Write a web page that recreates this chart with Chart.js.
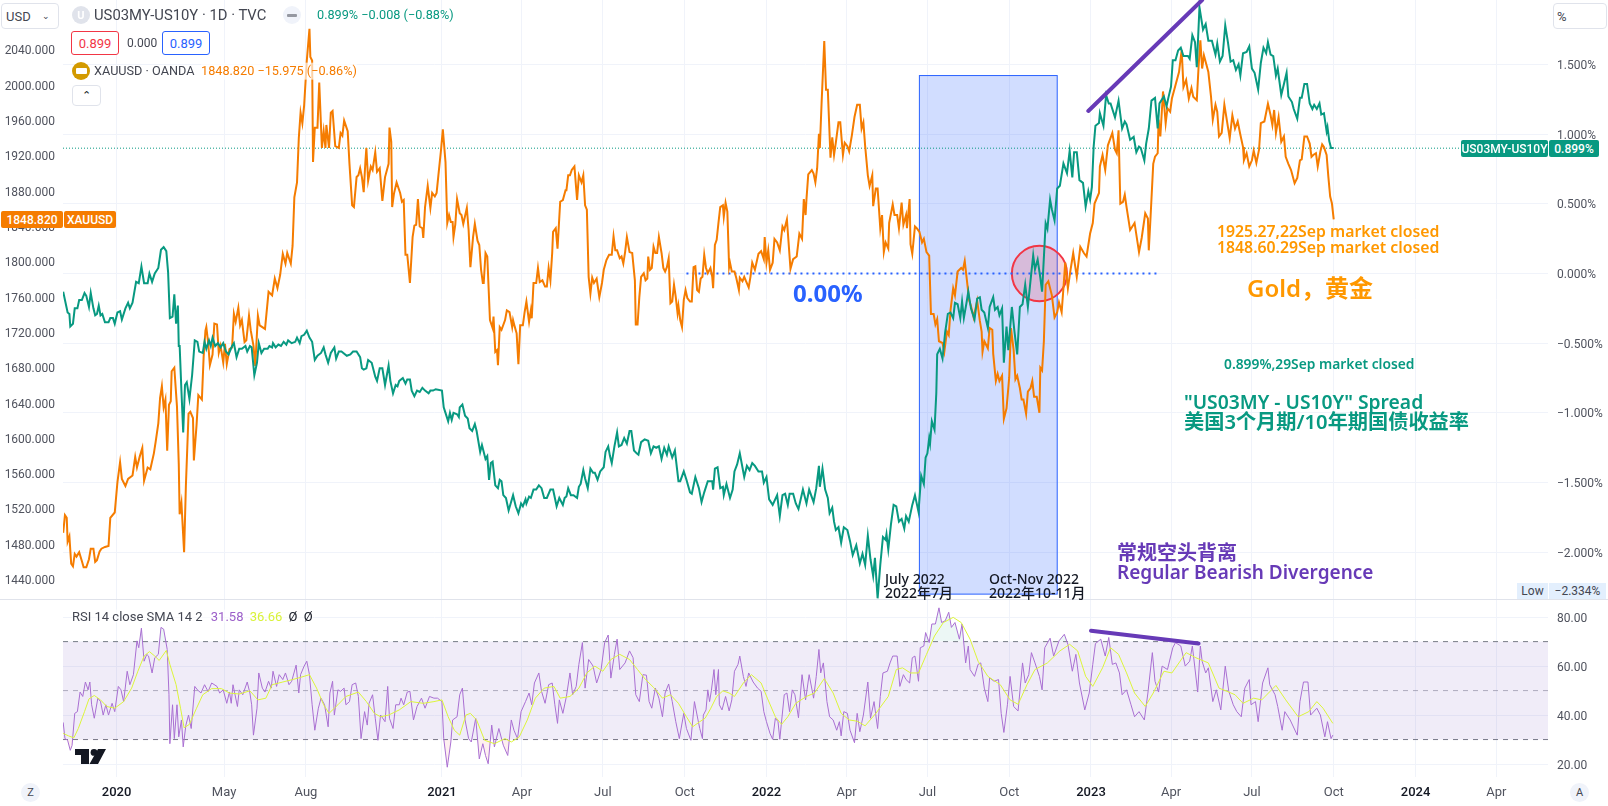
<!DOCTYPE html>
<html>
<head>
<meta charset="utf-8">
<script src="https://cdn.jsdelivr.net/npm/chart.js@4"></script>
<style>
    html, body { margin: 0; padding: 0; background: #fff; width: 1608px; height: 806px; overflow: hidden; }
    body { position: relative; font-family: Roboto, "Noto Sans CJK SC", sans-serif; font-size: 13px; color: #434651; }
    canvas { position: absolute; left: 0; }
    #mainChart { top: 0; }
    #rsiChart { top: 600px; }
    .t { position: absolute; white-space: nowrap; transform: translateY(-50%); line-height: 1; z-index: 3; }
    .note { font-family: "Noto Sans", "Noto Sans CJK SC", sans-serif; font-weight: 600; }
    .box { position: absolute; box-sizing: border-box; z-index: 3; display: flex; align-items: center; justify-content: center; white-space: nowrap; }
    .sel { border: 1px solid #e0e3eb; border-radius: 4px; background: #fff; }
    .round { border-radius: 50%; }
    .tag { color: #fff; font-weight: 500; font-size: 12px; border-radius: 2px; }
</style>
</head>
<body>
<canvas id="mainChart" width="1608" height="599"></canvas>
<canvas id="rsiChart" width="1608" height="206"></canvas>

<!-- divider between panes -->
<div style="position:absolute;left:0;top:599px;width:1608px;height:1px;background:#e0e3eb;z-index:2"></div>

<!-- legend -->
<div class="box sel" style="left:1px;top:3px;width:58px;height:26px;justify-content:flex-start;padding-left:4px">USD<span style="margin-left:11px;font-size:9px">&#8964;</span></div>
<div class="box sel" style="left:1553px;top:3px;width:54px;height:26px;justify-content:flex-start;padding-left:3px">%</div>
<div class="box round" style="left:72px;top:6px;width:18px;height:18px;background:#e0e3eb;color:#fff;font-size:11px;font-weight:700">U</div>
<div class="t" style="left:94px;top:15px;font-size:14.8px">US03MY-US10Y · 1D · TVC</div>
<div class="box round" style="left:283px;top:6px;width:18px;height:18px;background:#f0f3fa"><span style="width:10px;height:3px;background:#9598a1;border-radius:1px"></span></div>
<div class="t" style="left:317px;top:15px;font-size:12.7px;color:#089981">0.899% &#8722;0.008 (&#8722;0.88%)</div>
<div class="box" style="left:71px;top:31px;width:48px;height:24px;border:1px solid #f23645;border-radius:3px;color:#f23645;background:#fff">0.899</div>
<div class="t" style="left:127px;top:43px;font-size:12px">0.000</div>
<div class="box" style="left:162px;top:31px;width:48px;height:24px;border:1px solid #2962ff;border-radius:3px;color:#2962ff;background:#fff">0.899</div>
<div class="box round" style="left:72px;top:62px;width:18px;height:18px;background:#d39a00"><span style="width:11px;height:6px;background:#fff;border-radius:1px"></span></div>
<div class="t" style="left:94px;top:71px;font-size:12.7px">XAUUSD · OANDA</div>
<div class="t" style="left:201px;top:71px;font-size:12.7px;color:#f57c00;background:rgba(255,255,255,.65);padding:2px 0">1848.820 &#8722;15.975 (&#8722;0.86%)</div>
<div class="box sel" style="left:72px;top:85px;width:29px;height:21px;font-size:11px;color:#131722">&#8963;</div>

<!-- price tags -->
<div class="box tag" style="left:1px;top:211px;width:62px;height:17px;background:#f57c00">1848.820</div>
<div class="box tag" style="left:64px;top:211px;width:52px;height:17px;background:#f57c00">XAUUSD</div>
<div class="box tag" style="left:1461px;top:140px;width:87px;height:17px;background:#089981">US03MY-US10Y</div>
<div class="box tag" style="left:1549px;top:140px;width:50px;height:17px;background:#089981">0.899%</div>
<div class="box" style="left:1517px;top:583px;width:31px;height:16px;background:#e3effd;font-size:12px">Low</div>
<div class="box" style="left:1549px;top:583px;width:57px;height:16px;background:#e3effd;font-size:12px">&#8722;2.334%</div>

<!-- drawn notes -->
<div class="t note" style="left:793px;top:293px;font-size:24px;color:#2962ff;font-weight:700">0.00%</div>
<div class="t note" style="left:1217px;top:232px;font-size:15.8px;color:#ff9800">1925.27,22Sep market closed</div>
<div class="t note" style="left:1217px;top:248px;font-size:15.8px;color:#ff9800">1848.60.29Sep market closed</div>
<div class="t note" style="left:1247px;top:288px;font-size:24px;color:#ff9800">Gold，黄金</div>
<div class="t note" style="left:1224px;top:364px;font-size:13.8px;color:#089981">0.899%,29Sep market closed</div>
<div class="t note" style="left:1184px;top:402px;font-size:19.3px;color:#089981">"US03MY - US10Y" Spread</div>
<div class="t note" style="left:1184px;top:421px;font-size:20.2px;color:#089981">美国3个月期/10年期国债收益率</div>
<div class="t note" style="left:1117px;top:553px;font-size:20px;color:#673ab7">常规空头背离</div>
<div class="t note" style="left:1117px;top:572px;font-size:19px;color:#673ab7">Regular Bearish Divergence</div>
<div class="t note" style="left:885px;top:579px;font-size:14px;color:#131722;font-weight:500">July 2022</div>
<div class="t note" style="left:885px;top:593px;font-size:14px;color:#131722;font-weight:500">2022年7月</div>
<div class="t note" style="left:989px;top:579px;font-size:14px;color:#131722;font-weight:500">Oct-Nov 2022</div>
<div class="t note" style="left:989px;top:593px;font-size:14px;color:#131722;font-weight:500">2022年10-11月</div>

<!-- RSI legend -->
<div class="t" style="left:72px;top:616px;font-size:13px;background:rgba(255,255,255,.6)">RSI 14 close SMA 14 2 <span style="color:#9c5fc9;margin-left:5px">31.58</span> <span style="color:#d9f23a;margin-left:3px">36.66</span> <span style="color:#131722;margin-left:3px">Ø</span> <span style="color:#131722;margin-left:3px">Ø</span></div>

<!-- logo -->
<svg style="position:absolute;left:75px;top:749px;z-index:3" width="31" height="15" viewBox="0 0 31 15"><path d="M0 0h14v15H6V6H0z" fill="#131722"/><circle cx="19" cy="3.4" r="3.4" fill="#131722"/><path d="M23 0h8l-8 15H14.500z" fill="#131722"/></svg>

<!-- corner buttons -->
<div class="box round" style="left:21px;top:783px;width:19px;height:19px;background:#f0f3fa;font-size:11px">Z</div>
<div class="box round" style="left:1570px;top:783px;width:19px;height:19px;background:#f0f3fa;font-size:11px">A</div>

<script>
// x of every point = days since 2020-01-01, y = the value

// XAUUSD close (USD)
const goldPrice = [
    [-60,1493],[-58,1513],[-56,1510],[-55,1483],[-53,1489],[-51,1458],[-49,1455],[-47,1469],[-45,1466],[-42,1471],[-39,1461],[-37,1454],[-34,1454],[-31,1463],[-29,1475],[-26,1475],[-24,1460],[-22,1462],[-19,1472],[-17,1475],[-13,1477],[-9,1478],[-7,1510],[-2,1516],[1,1550],[4,1573],[6,1554],[10,1546],[13,1554],[18,1558],[21,1579],[23,1567],[26,1579],[29,1589],[31,1552],[35,1567],[38,1565],[42,1583],[44,1596],[47,1617],[49,1646],[51,1659],[53,1635],[55,1644],[57,1586],[59,1638],[61,1642],[62,1676],[65,1680],[68,1636],[70,1571],[71,1514],[73,1527],[76,1471],[78,1546],[81,1628],[83,1630],[86,1623],[87,1575],[90,1615],[92,1649],[96,1644],[98,1693],[100,1722],[101,1726],[103,1709],[105,1683],[108,1695],[110,1730],[113,1729],[115,1697],[117,1705],[120,1686],[122,1707],[124,1684],[127,1701],[130,1703],[132,1741],[134,1732],[137,1748],[139,1728],[141,1734],[144,1709],[146,1711],[149,1739],[151,1722],[154,1705],[156,1682],[159,1739],[161,1728],[167,1724],[171,1766],[175,1762],[178,1781],[181,1770],[184,1785],[187,1809],[190,1798],[192,1810],[196,1798],[198,1818],[200,1873],[203,1890],[205,1940],[207,1969],[209,1957],[211,1977],[214,2028],[217,2064],[218,2032],[220,2028],[221,1913],[223,1952],[226,1952],[228,2003],[231,1929],[233,1948],[235,1929],[236,1955],[239,1929],[241,1969],[243,1971],[246,1931],[250,1929],[252,1946],[254,1943],[256,1960],[260,1948],[262,1911],[265,1864],[267,1862],[270,1896],[272,1898],[274,1906],[276,1896],[278,1879],[280,1915],[281,1929],[283,1892],[286,1908],[288,1904],[291,1924],[293,1902],[296,1906],[299,1869],[302,1896],[306,1911],[307,1952],[309,1936],[310,1862],[312,1877],[315,1890],[319,1878],
    [321,1868],[323,1870],[325,1808],[327,1808],[330,1776],[333,1828],[335,1841],[337,1842],[339,1871],[341,1840],[344,1838],[345,1827],[347,1862],[350,1886],[353,1861],[355,1878],[358,1874],[360,1878],[362,1898],[365,1927],[367,1950],[370,1913],[372,1844],[374,1853],[376,1845],[378,1845],[379,1828],[381,1842],[383,1871],[386,1855],[388,1853],[390,1843],[394,1861],[396,1836],[398,1794],[401,1828],[403,1843],[406,1824],[408,1819],[410,1791],[412,1776],[413,1776],[415,1810],[417,1806],[420,1734],[423,1725],[424,1738],[426,1698],[428,1700],[429,1683],[431,1726],[433,1723],[437,1734],[439,1745],[442,1743],[445,1726],[446,1734],[448,1726],[450,1719],[452,1684],[454,1728],[457,1728],[459,1743],[461,1755],[464,1732],[466,1745],[467,1736],[469,1776],[472,1776],[474,1793],[476,1777],[479,1779],[482,1772],[484,1772],[486,1793],[488,1779],[490,1810],[491,1834],[494,1838],[496,1815],[499,1868],[502,1870],[505,1881],[506,1881],[508,1898],[510,1898],[512,1904],[515,1908],[518,1870],[520,1898],[523,1890],[525,1898],[527,1864],[529,1859],[531,1783],[533,1764],[535,1782],[537,1776],[540,1781],[543,1760],[546,1776],[548,1791],[551,1802],[554,1808],[557,1808],[559,1829],[561,1813],[563,1813],[566,1804],[568,1806],[570,1798],[572,1811],[574,1828],[577,1811],[580,1810],[583,1779],[584,1729],[586,1729],[588,1760],[590,1783],[593,1787],[595,1779],[597,1781],[598,1806],[600,1791],[602,1793],[604,1817],[606,1810],[608,1810],[610,1828],[613,1810],[615,1793],[617,1789],[619,1794],[621,1804],[623,1753],[625,1755],[627,1774],[629,1760],[631,1742],[632,1750],[634,1734],[636,1726],[638,1757],[640,1768],[642,1759],[645,1755],[647,1755],[649,1794],[651,1795],[653,1768],[655,1766],[657,1781],[659,1783],[661,1808],[663,1793],[665,1787],[668,1793],[670,1783],[671,1770],[673,1819],[675,1825],[677,1844],[679,1862],[682,1864],[683,1851],[685,1867],[687,1857],[689,1794],
    [690,1799],[692,1789],[695,1789],[697,1782],[700,1768],[701,1782],[704,1778],[706,1783],[708,1778],[711,1771],[713,1783],[715,1799],[718,1791],[722,1809],[725,1812],[728,1803],[729,1828],[731,1799],[733,1813],[735,1791],[738,1799],[740,1826],[743,1822],[746,1813],[749,1840],[751,1836],[754,1848],[758,1792],[761,1803],[765,1806],[768,1832],[771,1826],[773,1871],[775,1853],[776,1871],[778,1899],[782,1904],[784,1900],[786,1890],[788,1906],[790,1945],[791,1929],[793,1980],[796,2050],[798,1995],[800,1995],[803,1918],[805,1941],[807,1921],[809,1935],[812,1958],[814,1958],[817,1921],[819,1935],[822,1931],[824,1925],[827,1943],[830,1964],[833,1978],[836,1978],[838,1951],[840,1958],[842,1931],[845,1898],[847,1886],[850,1898],[851,1863],[854,1883],[856,1883],[859,1838],[861,1853],[863,1811],[865,1822],[868,1815],[869,1844],[873,1865],[875,1853],[878,1853],[880,1838],[883,1867],[885,1842],[888,1853],[889,1838],[892,1871],[893,1820],[895,1809],[898,1840],[900,1838],[903,1834],[906,1822],[908,1826],[911,1811],[914,1807],[916,1741],[919,1741],[921,1729],[923,1735],[925,1710],[929,1708],[931,1698],[934,1721],[936,1717],[938,1745],[941,1770],[943,1762],[946,1789],[950,1793],[952,1791],[954,1801],[956,1783],[959,1756],[961,1750],[964,1737],[968,1756],[971,1733],[973,1721],[974,1698],[976,1710],[980,1702],[982,1725],[985,1723],[986,1696],[989,1665],[991,1673],[993,1665],[996,1671],[998,1622],[1001,1634],[1003,1657],[1004,1669],[1006,1725],[1009,1700],[1011,1667],[1013,1671],[1016,1657],[1018,1644],[1020,1644],[1023,1628],[1025,1653],[1028,1657],[1030,1665],[1032,1647],[1035,1647],[1038,1629],[1039,1680],[1041,1677],[1043,1710],[1045,1774],[1048,1778],[1052,1762],[1055,1737],[1058,1743],[1060,1754],[1063,1743],[1065,1770],[1067,1799],[1070,1770],[1073,1791],
    [1076,1810],[1080,1783],[1084,1817],[1088,1810],[1091,1806],[1095,1832],[1098,1844],[1100,1866],[1105,1878],[1106,1908],[1109,1921],[1112,1904],[1115,1932],[1120,1946],[1123,1927],[1125,1923],[1127,1949],[1129,1866],[1132,1868],[1134,1876],[1136,1862],[1140,1836],[1145,1844],[1150,1811],[1153,1827],[1157,1855],[1160,1849],[1161,1813],[1163,1851],[1166,1911],[1168,1919],[1171,1923],[1172,1961],[1174,1942],[1177,1993],[1180,1957],[1182,1974],[1185,1970],[1187,1985],[1191,2000],[1195,2015],[1198,2040],[1200,1998],[1203,2006],[1206,1985],[1209,1997],[1211,1987],[1215,1983],[1217,2021],[1219,2051],[1221,2019],[1223,2034],[1228,2015],[1231,1987],[1233,1961],[1236,1978],[1238,1970],[1240,1942],[1243,1946],[1246,1978],[1249,1959],[1252,1940],[1255,1966],[1258,1951],[1261,1959],[1264,1944],[1267,1930],[1268,1915],[1271,1923],[1274,1908],[1277,1915],[1279,1926],[1282,1912],[1285,1927],[1287,1957],[1291,1959],[1295,1979],[1298,1966],[1300,1955],[1302,1972],[1304,1946],[1307,1964],[1310,1936],[1313,1942],[1315,1919],[1318,1911],[1321,1904],[1325,1889],[1328,1895],[1331,1915],[1333,1916],[1336,1942],[1339,1942],[1342,1934],[1344,1919],[1346,1921],[1349,1923],[1351,1908],[1354,1925],[1356,1933],[1358,1930],[1361,1921],[1363,1896],[1365,1874],[1367,1866],[1369,1848]
];

// US03MY-US10Y spread (%)
const spreadPct = [
    [-60,-.13],[-58,-.19],[-55,-.28],[-53,-.29],[-52,-.38],[-49,-.36],[-47,-.25],[-44,-.25],[-42,-.19],[-39,-.19],[-36,-.14],[-34,-.16],[-31,-.24],[-29,-.14],[-26,-.25],[-24,-.30],[-22,-.29],[-20,-.23],[-18,-.30],[-16,-.29],[-13,-.35],[-9,-.35],[-7,-.32],[-4,-.32],[-2,-.36],[1,-.28],[4,-.27],[6,-.33],[10,-.25],[13,-.21],[15,-.25],[18,-.21],[22,-.06],[25,-.07],[28,.05],[31,-.07],[35,-.07],[37,0],[40,-.06],[43,0],[47,.04],[50,.17],[53,.19],[56,.16],[58,.01],[60,-.32],[63,-.31],[65,-.15],[67,-.36],[69,-.23],[70,-.52],[71,-.52],[73,-.84],[75,-1.14],[77,-.80],[79,-.78],[82,-.90],[85,-.73],[88,-.48],[91,-.49],[93,-.56],[97,-.57],[99,-.49],[101,-.54],[104,-.48],[106,-.52],[108,-.46],[111,-.52],[114,-.50],[117,-.53],[120,-.50],[123,-.56],[126,-.58],[130,-.52],[132,-.50],[135,-.60],[138,-.54],[141,-.54],[145,-.52],[147,-.56],[150,-.52],[152,-.53],[155,-.73],[158,-.64],[160,-.50],[163,-.57],[166,-.54],[170,-.54],[172,-.52],[175,-.53],[176,-.50],[179,-.53],[182,-.51],[185,-.52],[188,-.49],[191,-.51],[193,-.48],[197,-.50],[201,-.49],[203,-.46],[206,-.50],[208,-.45],[211,-.44],[214,-.41],[217,-.46],[220,-.49],[223,-.62],[226,-.59],[230,-.57],[233,-.53],[235,-.58],[238,-.64],[241,-.57],[245,-.53],[247,-.61],[250,-.56],[253,-.56],[259,-.59],[263,-.58],[266,-.56],[270,-.56],[274,-.60],[276,-.68],[278,-.69],[281,-.68],[283,-.62],[287,-.64],[291,-.74],[293,-.77],[296,-.68],[299,-.68],[302,-.80],[306,-.66],[308,-.77],[311,-.86],[314,-.80],[316,-.81],[318,-.77],
    [322,-.75],[325,-.79],[327,-.76],[330,-.76],[332,-.84],[335,-.88],[338,-.84],[341,-.85],[344,-.82],[347,-.84],[351,-.86],[353,-.84],[356,-.84],[359,-.83],[366,-.84],[368,-.96],[370,-1.00],[373,-1.06],[375,-1.00],[377,-1.05],[379,-1.00],[383,-1.01],[385,-1.03],[386,-.96],[389,-.94],[392,-1.02],[395,-1.04],[397,-1.11],[400,-1.13],[403,-1.08],[405,-1.13],[409,-1.28],[411,-1.23],[415,-1.33],[417,-1.31],[419,-1.48],[421,-1.36],[423,-1.35],[426,-1.52],[429,-1.54],[431,-1.48],[433,-1.49],[435,-1.59],[438,-1.61],[441,-1.70],[446,-1.59],[449,-1.67],[452,-1.72],[455,-1.65],[457,-1.67],[460,-1.62],[461,-1.65],[464,-1.60],[466,-1.61],[469,-1.55],[472,-1.55],[475,-1.52],[478,-1.54],[481,-1.61],[484,-1.61],[488,-1.55],[491,-1.55],[495,-1.67],[498,-1.61],[502,-1.66],[504,-1.61],[506,-1.60],[508,-1.54],[511,-1.59],[514,-1.59],[518,-1.61],[520,-1.53],[522,-1.51],[525,-1.41],[527,-1.47],[530,-1.54],[533,-1.40],[536,-1.43],[538,-1.43],[541,-1.48],[544,-1.42],[548,-1.39],[550,-1.28],[553,-1.24],[555,-1.31],[557,-1.36],[560,-1.24],[563,-1.14],[565,-1.24],[568,-1.23],[571,-1.18],[574,-1.22],[577,-1.13],[579,-1.13],[582,-1.27],[585,-1.29],[587,-1.30],[590,-1.21],[594,-1.19],[598,-1.20],[601,-1.29],[604,-1.24],[607,-1.25],[610,-1.24],[613,-1.33],[616,-1.25],[619,-1.30],[621,-1.24],[625,-1.32],[628,-1.27],[632,-1.49],[634,-1.49],[638,-1.42],[641,-1.48],[645,-1.57],[647,-1.58],[651,-1.46],[655,-1.54],[658,-1.64],[661,-1.57],[665,-1.49],[668,-1.49],[670,-1.49],[671,-1.55],[673,-1.40],[676,-1.39],[679,-1.54],[682,-1.53],[683,-1.59],[686,-1.51],
    [690,-1.61],[693,-1.55],[695,-1.42],[698,-1.37],[701,-1.29],[706,-1.46],[709,-1.38],[712,-1.41],[715,-1.36],[718,-1.38],[722,-1.42],[726,-1.42],[728,-1.50],[731,-1.46],[734,-1.62],[738,-1.66],[743,-1.59],[746,-1.74],[749,-1.59],[752,-1.58],[755,-1.66],[757,-1.58],[761,-1.58],[764,-1.65],[767,-1.69],[772,-1.55],[776,-1.65],[779,-1.55],[784,-1.64],[787,-1.54],[790,-1.38],[791,-1.53],[794,-1.40],[797,-1.55],[800,-1.61],[802,-1.72],[805,-1.68],[807,-1.78],[809,-1.84],[812,-1.82],[815,-1.93],[818,-1.82],[822,-1.84],[825,-1.92],[828,-2.02],[832,-1.95],[836,-2.08],[839,-2.01],[842,-2.09],[845,-1.88],[848,-2.05],[851,-2.17],[853,-2.04],[856,-2.33],[859,-2.09],[862,-1.89],[865,-1.91],[866,-1.87],[868,-1.98],[871,-1.80],[874,-1.66],[877,-1.67],[880,-1.78],[883,-1.76],[886,-1.83],[888,-1.74],[891,-1.78],[895,-1.66],[898,-1.59],[902,-1.71],[905,-1.45],[908,-1.51],[910,-1.32],[912,-1.29],[914,-1.18],[915,-1.22],[917,-1.06],[920,-1.12],[922,-.86],[923,-.58],[926,-.54],[929,-.61],[932,-.42],[935,-.29],[938,-.28],[941,-.32],[943,-.21],[946,-.22],[949,-.32],[951,-.20],[953,-.32],[956,-.21],[958,-.13],[961,-.25],[965,-.33],[968,-.18],[971,-.17],[973,-.26],[976,-.28],[980,-.39],[982,-.24],[986,-.17],[988,-.26],[991,-.24],[993,-.30],[996,-.25],[998,-.64],[1001,-.38],[1003,-.55],[1007,-.24],[1010,-.42],[1013,-.58],[1016,-.24],[1019,-.22],[1022,-.08],[1025,-.24],[1028,-.05],[1031,.13],[1033,.03],[1036,.10],[1039,-.03],[1041,-.13],[1045,.36],[1047,.32],[1050,.53],[1052,.46],[1055,.38],[1058,.61],[1061,.63],[1065,.79],[1069,.72],[1072,.88],
    [1075,.69],[1077,.87],[1080,.87],[1083,.67],[1087,.65],[1090,.48],[1093,.59],[1095,.53],[1097,.62],[1099,.91],[1101,1.06],[1105,1.08],[1106,1.15],[1110,1.06],[1113,1.28],[1116,1.22],[1118,1.22],[1123,1.12],[1127,1.24],[1131,1.04],[1134,1.09],[1136,1.07],[1140,.96],[1144,.98],[1147,.87],[1150,.91],[1152,.90],[1156,.81],[1158,.93],[1161,1.04],[1164,1.24],[1168,1.26],[1171,1.04],[1173,1.22],[1178,1.27],[1181,1.20],[1183,1.26],[1186,1.34],[1188,1.53],[1191,1.53],[1194,1.60],[1197,1.62],[1200,1.56],[1205,1.56],[1207,1.54],[1210,1.71],[1213,1.66],[1215,1.48],[1218,1.91],[1222,1.75],[1225,1.79],[1228,1.67],[1232,1.67],[1236,1.57],[1238,1.65],[1241,1.52],[1244,1.56],[1247,1.78],[1250,1.66],[1253,1.52],[1256,1.53],[1259,1.46],[1262,1.50],[1264,1.42],[1267,1.58],[1271,1.59],[1274,1.63],[1277,1.47],[1280,1.44],[1284,1.32],[1287,1.51],[1290,1.62],[1293,1.58],[1295,1.66],[1298,1.57],[1301,1.56],[1304,1.42],[1306,1.47],[1310,1.28],[1313,1.36],[1316,1.44],[1318,1.27],[1322,1.23],[1324,1.18],[1328,1.11],[1331,1.26],[1333,1.26],[1336,1.36],[1339,1.36],[1342,1.22],[1345,1.18],[1347,1.21],[1350,1.18],[1353,1.22],[1355,1.14],[1358,1.15],[1361,1.02],[1362,1.05],[1364,.95],[1366,.90],[1369,.90]
];

// RSI 14
const rsiValue = [
    [-60,37],[-58,30.4],[-55,29.7],[-52,25.6],[-50,27.6],[-47,40.7],[-44,41.4],[-41,49.4],[-38,47.6],[-35,53.5],[-32,50.3],[-30,53.5],[-28,44.2],[-25,38.7],[-21,46.9],[-18,45.5],[-15,40],[-12,44.2],[-9,40],[-5,44.8],[-2,41.4],[2,51.7],[5,50.3],[8,45.5],[12,57.9],[15,52.4],[19,56.5],[23,70.3],[25,67.5],[28,75.5],[31,62],[34,64.8],[36,64.1],[40,57.2],[43,63.4],[47,64.8],[50,75.8],[53,75.1],[57,66.8],[59,48.3],[60,28.3],[63,44.2],[65,30.4],[68,44.2],[70,31.1],[73,38],[75,27],[78,35.9],[81,40],[84,34.5],[88,51.7],[91,50.3],[95,49],[99,52.4],[103,49.6],[107,53.1],[113,51.7],[116,49],[120,50.3],[124,44.8],[127,49.4],[129,44.8],[131,52.4],[136,43.5],[138,50.3],[142,48.3],[147,53.5],[150,49],[152,44.2],[154,31.8],[158,42.8],[160,57.2],[164,51],[167,49.4],[171,53.8],[174,51],[176,57.9],[180,51.7],[183,56.5],[187,54.5],[190,57.2],[194,52.4],[197,53.8],[202,60.4],[205,49],[207,56.5],[211,60],[214,62],[217,56.5],[220,44.2],[223,33.8],[227,42.8],[230,46.9],[234,44.2],[238,35.2],[240,49],[243,53.8],[245,40],[249,50.3],[252,49.7],[256,51],[258,44.2],[262,45.5],[265,52.4],[269,53.1],[272,47.6],[275,30.4],[279,41.4],[282,35.9],[284,44.8],[288,48.3],[291,38.7],[294,29.7],[297,40],[302,37.3],[305,51.7],[307,38.7],[311,34.5],[314,44.2],[318,44.2],[320,46.9],[323,44.2],[327,49.4],[330,49.7],[334,38],[338,43.5],[343,46.9],[347,42.8],[352,47.6],[357,46.9],[361,46.9],[366,45.5],[368,30.4],[372,18.7],[376,29],[378,38],[383,39.3],[386,48.3],[389,51],[392,38],[396,30.4],[399,29],[404,38.7],[408,22.1],[412,28.3],[415,23.5],[418,20.1],[422,35.9],[425,27],[430,34.5],[435,27.7],[440,23.5],[444,38],[447,33.8],[451,30.4],[455,41.4],[460,45.5],[464,49],[467,44.2],[470,53.1],[475,57.2],[478,49.7],[482,44.8],[486,52.4],[490,53.1],[493,44.2],[496,36.6],[498,46.2],[502,40.7],[506,47.6],[510,57.2],[513,48.3],[517,51.7],[520,60.7],[524,69.6],[527,51],[531,62.7],[536,60],[540,53.1],[545,58.6],[549,69.6],[553,72.7],[556,55.1],[560,64.8],[563,71],[566,58.6],[572,61.3],[577,66.2],[581,63.4],[584,48.3],[588,45.5],[592,56.5],[596,56.3],[599,45.5],[602,42.8],[606,51],[610,46.9],[614,39.3],[617,49],[621,52.7],[625,45.5],[629,37.3],[633,30.4],[638,40.7],[641,34.5],[646,29.7],[650,45.5],[654,38],[656,34.5],
    [659,30.4],[660,40],[663,42.1],[665,50.3],[667,45.5],[669,49.9],[672,58.6],[674,48.3],[677,58.6],[678,44.2],[681,42.1],[685,47.6],[689,41.7],[692,46.2],[695,57.9],[699,60.7],[701,64.1],[705,55.8],[708,51.7],[711,57.2],[716,53.5],[721,51],[725,49.7],[728,41.4],[731,37.3],[735,32.5],[738,30.1],[741,38.7],[744,37.3],[746,30.1],[751,48.3],[754,49],[757,41.4],[760,50.3],[763,48.3],[767,38.9],[771,56.5],[775,46.2],[779,56.5],[784,46.9],[787,55.8],[790,66.8],[792,57.2],[795,61.3],[799,45.5],[802,39.3],[806,38],[810,33.8],[813,37.3],[815,31.5],[818,41.4],[822,40.7],[825,33.8],[830,28.7],[833,40.7],[836,33.2],[840,40],[845,53.5],[848,38.7],[852,45.5],[856,34.5],[859,47.6],[862,57.2],[867,57.9],[870,61.3],[873,64.1],[878,64.1],[881,51.7],[885,56.5],[888,54.5],[892,53.1],[895,63.4],[898,64.1],[902,53.8],[904,67.5],[908,68.2],[910,73.7],[914,69.6],[917,77.2],[921,77.2],[925,83.8],[928,77.8],[932,78.5],[936,82],[939,75.8],[943,77.8],[948,71],[951,77.2],[955,61.3],[958,68.2],[960,58.6],[965,55.8],[969,60.7],[972,61.3],[976,51],[980,45.5],[982,55.2],[987,53.8],[992,54.5],[995,40.7],[998,32.9],[1002,44.2],[1005,55.8],[1009,43.5],[1014,41.7],[1019,61.3],[1022,53.1],[1026,56.5],[1029,65.5],[1033,61.3],[1038,55.8],[1041,50.3],[1044,67.5],[1050,71.4],[1054,64.1],[1060,70.3],[1066,73],[1070,68.9],[1075,57.9],[1079,64.8],[1083,53.1],[1089,42.1],[1094,49],[1098,60.7],[1101,69.2],[1107,71],[1112,64.1],[1116,71.7],[1120,60.7],[1124,61.3],[1128,57.2],[1131,48.3],[1136,50.3],[1141,44.2],[1145,39.3],[1150,41.4],[1156,38],[1160,49],[1165,65.5],[1168,53.8],[1172,49.4],[1176,60],[1182,58.6],[1188,67.5],[1191,69.6],[1197,68.2],[1202,60],[1207,62],[1210,68.2],[1216,49.4],[1219,68.2],[1221,62],[1225,57.2],[1228,59.3],[1233,45.5],[1237,50.3],[1242,42.1],[1247,60],[1251,49.7],[1256,44.2],[1260,41.4],[1265,39.3],[1269,51],[1274,54.5],[1276,44.2],[1281,45.5],[1284,37.3],[1289,53.1],[1295,59.3],[1297,52.4],[1303,48.3],[1306,43.5],[1311,33.8],[1314,41.4],[1320,38],[1328,31.8],[1331,45.5],[1335,53.5],[1340,53.5],[1343,40],[1350,42.8],[1354,40],[1359,31.1],[1362,37.3],[1366,30.4],[1368,31.8]
];

// SMA of the RSI
const rsiSma = [
    [-60,32.5],[-54,31.5],[-48,30.7],[-43,34.5],[-36,41.4],[-31,46.6],[-25,48],[-18,46.2],[-11,43.5],[-2,42.8],[8,45.5],[17,51],[24,57.9],[31,64.1],[37,65.9],[43,64.1],[48,62.3],[56,66.4],[60,60.7],[67,52.4],[72,42.8],[76,34.8],[82,36.2],[90,42.8],[97,48.3],[107,50.8],[118,50.8],[127,49],[138,48.6],[150,49.9],[159,46.2],[168,46.9],[175,52.4],[187,53.5],[198,54.5],[207,55.4],[217,56.5],[225,51],[233,44.2],[239,40.7],[249,44.2],[258,47.6],[272,49.4],[281,45.5],[290,40.7],[297,39.3],[306,40],[318,42.1],[331,45.5],[345,44.8],[357,45.5],[366,46.2],[373,39.3],[380,33.8],[386,31.8],[393,40],[398,40.7],[405,38],[414,29.7],[425,28.3],[437,30.4],[444,29],[453,31.1],[462,38],[471,46.9],[481,51],[492,51.7],[499,46.9],[510,47.6],[520,51],[529,57.2],[538,60],[547,57.9],[556,62.7],[566,64.8],[577,62.7],[586,58.6],[595,54.5],[604,51.3],[614,46.9],[623,48.3],[632,44.8],[641,39.3],[648,35.2],[656,37.3],
    [662,38.7],[668,42.5],[675,47.6],[682,49.9],[689,49],[695,47.6],[705,53.1],[714,56.5],[725,53.1],[732,46.9],[741,39.3],[748,36.2],[755,39.3],[764,44.8],[776,47.6],[785,49],[796,54.9],[806,49],[815,40.7],[824,38],[833,37.5],[842,35.6],[854,40.7],[868,47.6],[877,58.6],[884,59.3],[893,57.2],[902,57.2],[911,64.8],[920,72.3],[930,77.8],[941,79.9],[950,77.8],[960,71],[969,62],[980,55.8],[994,52.4],[1005,46.2],[1014,44.4],[1024,52.4],[1033,58.6],[1047,61.3],[1061,66.2],[1072,68.9],[1081,66.2],[1090,55.8],[1098,51.7],[1109,59.3],[1118,67.5],[1127,64.8],[1136,57.2],[1145,49],[1157,43.5],[1166,49],[1178,57.9],[1187,57.2],[1203,65.5],[1214,63.4],[1228,61.3],[1240,51],[1249,49.7],[1258,48.3],[1267,44.8],[1279,46.9],[1288,46.2],[1304,52.1],[1315,46.2],[1329,39.3],[1341,41.4],[1350,45.5],[1357,42.8],[1368,36.6]
];

// axis ticks
const dayTicks = [0, 121, 213, 366, 456, 547, 639, 731, 821, 912, 1004, 1096, 1186, 1277, 1369, 1461, 1552];
const dayLabels = ["2020", "May", "Aug", "2021", "Apr", "Jul", "Oct", "2022", "Apr", "Jul", "Oct", "2023", "Apr", "Jul", "Oct", "2024", "Apr"];
const yearTicks = [0, 366, 731, 1096, 1461];
const goldTicks = [1440, 1480, 1520, 1560, 1600, 1640, 1680, 1720, 1760, 1800, 1840, 1880, 1920, 1960, 2000, 2040];
const pctTicks = [-2, -1.5, -1, -0.5, 0, 0.5, 1, 1.5];
const rsiTicks = [20, 40, 60, 80];

// visible ranges
const dayRange = [-60.2, 1610];
const goldRange = [1418, 2096.6];
const pctRange = [-2.335, 1.962];
const rsiRange = [14.7, 87];

// drawings
const lastSpread = 0.899;
const zeroLineDays = [641, 1171];
const divergenceMain = [[1093, 1.166], [1221, 1.962]];
const divergenceRsi = [[1096, 74.4], [1217, 69.2]];
const rectDays = [903, 1058];
const rectPct = [1.42, -2.30];
const circleAt = [1038, 0];
const circleRadius = [31, 0.199];
const rsiLevels = [70, 50, 30];

const green = "#089981";
const orange = "#f57c00";
const purple = "#673ab7";
const gridColor = "#f0f3fa";
const axisColor = "#50535e";
const axisFont = { family: "Roboto", size: 12 };

function toXY(points) {
    return points.map(p => ({ x: p[0], y: p[1] }));
}

function lineSet(points, color, width, axis, extra) {
    return Object.assign({
        data: toXY(points), borderColor: color, borderWidth: width,
        pointRadius: 0, tension: 0, fill: false, yAxisID: axis
    }, extra || {});
}

function fixedTicks(values) {
    return scale => { scale.ticks = values.map(v => ({ value: v })); };
}

// no room reserved for half of the outer labels, the plot fills the pane
function noLabelPadding(scale) {
    scale.paddingTop = 0;
    scale.paddingBottom = 0;
    scale.paddingLeft = 0;
    scale.paddingRight = 0;
}

function signed(v, digits) {
    return (v < 0 ? "\u2212" : "") + Math.abs(v).toFixed(digits);
}

function isYear(ctx) {
    return ctx.tick && yearTicks.includes(ctx.tick.value);
}

// rectangle and circle, under the lines
const drawingsPlugin = {
    id: "drawings",
    beforeDatasetsDraw(chart) {
        const c = chart.ctx, x = chart.scales.x, y = chart.scales.yPct, a = chart.chartArea;
        c.save();
        c.beginPath();
        c.rect(a.left, a.top, a.width, a.height);
        c.clip();
        const x0 = x.getPixelForValue(rectDays[0]), x1 = x.getPixelForValue(rectDays[1]);
        const y0 = y.getPixelForValue(rectPct[0]), y1 = y.getPixelForValue(rectPct[1]);
        c.fillStyle = "rgba(41,98,255,0.215)";
        c.fillRect(x0, y0, x1 - x0, y1 - y0);
        c.strokeStyle = "#2962ff";
        c.lineWidth = 1;
        c.strokeRect(x0, y0, x1 - x0, y1 - y0);
        const cx = x.getPixelForValue(circleAt[0]), cy = y.getPixelForValue(circleAt[1]);
        const rx = x.getPixelForValue(circleAt[0] + circleRadius[0]) - cx;
        const ry = cy - y.getPixelForValue(circleAt[1] + circleRadius[1]);
        c.beginPath();
        c.ellipse(cx, cy, rx, ry, 0, 0, Math.PI * 2);
        c.fillStyle = "rgba(242,54,69,0.2)";
        c.fill();
        c.strokeStyle = "#f23645";
        c.lineWidth = 2;
        c.stroke();
        c.restore();
    }
};

new Chart(document.getElementById("mainChart"), {
    type: "line",
    plugins: [drawingsPlugin],
    data: {
        datasets: [
            lineSet(divergenceMain, purple, 4, "yPct", { order: 0, borderCapStyle: "round" }),
            lineSet(spreadPct, green, 2, "yPct", { order: 1 }),
            lineSet(goldPrice, orange, 2, "yGold", { order: 2 }),
            lineSet([[dayRange[0], lastSpread], [dayRange[1], lastSpread]], green, 1, "yPct", { order: 3, borderDash: [1, 2] }),
            lineSet([[zeroLineDays[0], 0], [zeroLineDays[1], 0]], "#2962ff", 2, "yPct", { order: 3, borderDash: [2, 4] })
        ]
    },
    options: {
        responsive: false,
        animation: false,
        layout: { padding: 0, autoPadding: false },
        plugins: { legend: { display: false }, tooltip: { enabled: false } },
        scales: {
            x: {
                type: "linear", min: dayRange[0], max: dayRange[1],
                afterBuildTicks: fixedTicks(dayTicks),
                afterFit(scale) { scale.height = 0; noLabelPadding(scale); },
                ticks: { display: false },
                grid: { color: gridColor, drawTicks: false },
                border: { display: false }
            },
            yGold: {
                position: "left", min: goldRange[0], max: goldRange[1],
                afterBuildTicks: fixedTicks(goldTicks),
                afterFit(scale) { scale.width = 63; noLabelPadding(scale); },
                ticks: { color: axisColor, font: axisFont, padding: 8, labelOffset: 1.5, callback: v => v.toFixed(3) },
                grid: { display: false, drawTicks: false },
                border: { display: false }
            },
            yPct: {
                position: "right", min: pctRange[0], max: pctRange[1],
                afterBuildTicks: fixedTicks(pctTicks),
                afterFit(scale) { scale.width = 60; noLabelPadding(scale); },
                ticks: { color: axisColor, font: axisFont, padding: 9, labelOffset: 1.5, callback: v => signed(v, 3) + "%" },
                grid: { color: gridColor, drawTicks: false },
                border: { display: false }
            }
        }
    }
});

new Chart(document.getElementById("rsiChart"), {
    type: "line",
    data: {
        datasets: [
            lineSet(divergenceRsi, purple, 4, "yRsi", { order: 0, borderCapStyle: "round" }),
            lineSet(rsiSma, "#dcf53a", 1, "yRsi", { order: 1 }),
            lineSet(rsiValue, "#a96fd2", 1, "yRsi", { order: 2, fill: { target: { value: 70 }, above: "rgba(8,153,129,0.08)", below: "rgba(0,0,0,0)" } }),
            lineSet(rsiValue, "rgba(0,0,0,0)", 0, "yRsi", { order: 3, fill: { target: { value: 30 }, above: "rgba(0,0,0,0)", below: "rgba(242,54,69,0.08)" } }),
            lineSet([[dayRange[0], rsiLevels[0]], [dayRange[1], rsiLevels[0]]], "#787b86", 1, "yRsi", { order: 4, borderDash: [5, 5], fill: { target: { value: rsiLevels[2] } }, backgroundColor: "rgba(126,87,194,0.115)" }),
            lineSet([[dayRange[0], rsiLevels[1]], [dayRange[1], rsiLevels[1]]], "rgba(120,123,134,0.55)", 1, "yRsi", { order: 4, borderDash: [5, 5] }),
            lineSet([[dayRange[0], rsiLevels[2]], [dayRange[1], rsiLevels[2]]], "#787b86", 1, "yRsi", { order: 4, borderDash: [5, 5] })
        ]
    },
    options: {
        responsive: false,
        animation: false,
        layout: { padding: { left: 63 }, autoPadding: false },
        plugins: { legend: { display: false }, tooltip: { enabled: false } },
        scales: {
            x: {
                type: "linear", min: dayRange[0], max: dayRange[1],
                afterBuildTicks: fixedTicks(dayTicks),
                afterFit(scale) { scale.height = 29; noLabelPadding(scale); },
                ticks: {
                    autoSkip: false, maxRotation: 0, padding: 8,
                    color: ctx => isYear(ctx) ? "#131722" : axisColor,
                    font: ctx => ({ family: "Roboto", size: 13, weight: isYear(ctx) ? "500" : "400" }),
                    callback: v => dayLabels[dayTicks.indexOf(v)]
                },
                grid: { color: gridColor, drawTicks: false },
                border: { display: false }
            },
            yRsi: {
                position: "right", min: rsiRange[0], max: rsiRange[1],
                afterBuildTicks: fixedTicks(rsiTicks),
                afterFit(scale) { scale.width = 60; noLabelPadding(scale); },
                ticks: { color: axisColor, font: axisFont, padding: 9, labelOffset: 1.5, callback: v => v.toFixed(2) },
                grid: { color: gridColor, drawTicks: false },
                border: { display: false }
            }
        }
    }
});
</script>
</body>
</html>
